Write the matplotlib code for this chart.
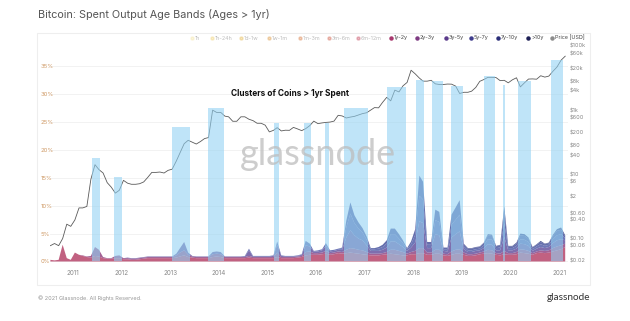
import numpy as np
import pandas as pd
import matplotlib
matplotlib.use('Agg')
import matplotlib.pyplot as plt
from matplotlib.patches import Rectangle
from matplotlib.lines import Line2D

plt.rcParams['font.family'] = ['Inter', 'DejaVu Sans']

# monthly samples, Jul 2010 .. Feb 2021 (mid month)
months = pd.date_range('2010-07-01', '2021-02-01', freq='MS') + pd.Timedelta(days=14)

# BTC price (USD)
price = [0.06, 0.07, 0.06, 0.10, 0.28, 0.24,
         0.38, 0.9, 0.9, 1.0, 7.0, 20, 14, 11, 5.5, 4.0, 2.6, 3.2,
         6.5, 5.3, 4.9, 4.9, 5.1, 5.8, 8.0, 11.5, 11.5, 11.8, 11.0, 13.3,
         14.5, 26, 47, 90, 115, 100, 88, 105, 130, 140, 1000, 850,
         850, 650, 620, 450, 450, 620, 620, 520, 470, 390, 390, 340,
         210, 235, 285, 225, 237, 235, 290, 260, 230, 265, 330, 455,
         380, 400, 415, 425, 455, 690, 660, 570, 608, 640, 710, 780,
         830, 1010, 1200, 1180, 1750, 2500, 1950, 4200, 3700, 5700, 7300, 17500,
         13500, 10000, 8000, 8000, 8500, 6600, 6300, 6300, 6500, 6450, 5600, 3300,
         3600, 3600, 3900, 5100, 7900, 9000, 10500, 10500, 10300, 8300, 8500, 7100,
         8800, 10200, 5300, 7100, 9300, 9400, 9200, 11800, 10700, 11500, 16300, 22000,
         36000, 48000]

# spent output share per age band (%)
band_1y_2y = [0.3, 0.2, 0.3, 3.0, 0.6, 0.3,
              1.6, 1.2, 1.0, 0.8, 0.7, 1.0, 0.9, 0.6, 0.5, 0.5, 0.6, 0.6,
              0.4, 0.4, 0.3, 0.3, 0.4, 0.5, 0.6, 0.6, 0.6, 0.6, 0.6, 0.6,
              0.6, 0.7, 0.9, 1.1, 0.8, 0.7, 0.6, 0.6, 0.6, 0.6, 0.8, 0.9,
              0.8, 0.6, 0.6, 0.6, 0.6, 0.6, 0.6, 0.7, 0.6, 0.6, 0.6, 0.6,
              0.6, 0.6, 0.8, 0.6, 0.6, 0.6, 0.6, 0.7, 0.8, 1.1, 1.2, 1.2,
              1.2, 1.3, 1.4, 1.2, 1.3, 1.5, 1.4, 1.5, 1.6, 1.5, 1.4, 1.3,
              1.2, 1.1, 1.1, 1.1, 1.2, 1.3, 1.4, 1.3, 1.2, 1.1, 1.1, 1.3,
              1.3, 1.5, 1.5, 1.2, 1.2, 1.4, 1.4, 1.1, 1.0, 1.2, 1.4, 1.4,
              1.2, 1.0, 1.0, 1.1, 1.3, 1.4, 1.5, 1.4, 1.2, 1.1, 1.3, 1.2,
              1.2, 1.3, 1.6, 1.5, 1.4, 1.2, 1.5, 1.6, 1.5, 1.6, 1.8, 2.0,
              2.2, 2.6]
band_2y_3y = [0] * 6 + [
              0.0, 0.0, 0.1, 0.1, 0.3, 1.6, 1.2, 0.2, 0.1, 0.1, 0.4, 0.5,
              0.2, 0.2, 0.2, 0.2, 0.2, 0.2, 0.2, 0.2, 0.2, 0.2, 0.2, 0.2,
              0.2, 0.4, 0.7, 0.9, 0.4, 0.2, 0.2, 0.2, 0.2, 0.2, 0.5, 0.5,
              0.5, 0.2, 0.2, 0.2, 0.2, 0.2, 0.2, 0.3, 0.2, 0.2, 0.2, 0.2,
              0.2, 0.2, 0.8, 0.2, 0.2, 0.2, 0.2, 0.2, 0.2, 0.6, 0.6, 0.3,
              0.3, 0.3, 0.5, 0.3, 0.3, 0.3, 0.3, 0.6, 0.8, 0.8, 0.7, 0.7,
              0.5, 0.3, 0.3, 0.3, 0.3, 0.4, 0.7, 0.8, 0.7, 0.6, 0.3, 0.4,
              0.6, 0.9, 0.9, 0.4, 0.4, 0.7, 0.7, 0.3, 0.3, 0.6, 0.7, 0.8,
              0.4, 0.3, 0.3, 0.3, 0.3, 0.4, 0.6, 0.6, 0.3, 0.3, 0.6, 0.3,
              0.3, 0.4, 0.6, 0.6, 0.5, 0.3, 0.3, 0.4, 0.4, 0.4, 0.6, 0.7,
              0.7, 0.6]
band_3y_5y = [0] * 18 + [
              0.0, 0.1, 0.1, 0.1, 0.1, 0.1, 0.1, 0.1, 0.1, 0.1, 0.1, 0.1,
              0.1, 0.3, 0.8, 1.5, 0.4, 0.1, 0.1, 0.1, 0.1, 0.1, 0.4, 0.4,
              0.4, 0.1, 0.1, 0.1, 0.1, 0.1, 0.1, 1.0, 0.1, 0.1, 0.1, 0.1,
              0.1, 0.2, 1.4, 0.2, 0.1, 0.1, 0.1, 0.1, 0.2, 1.2, 0.9, 0.3,
              0.3, 0.4, 0.9, 0.3, 0.3, 0.3, 0.4, 2.2, 3.2, 2.4, 2.0, 1.8,
              1.2, 0.5, 0.5, 0.5, 0.6, 0.8, 1.5, 1.5, 1.2, 0.9, 0.5, 0.8,
              1.5, 4.8, 4.5, 0.8, 0.8, 2.8, 2.6, 0.5, 0.5, 2.5, 2.8, 3.2,
              0.6, 0.4, 0.4, 0.5, 0.4, 0.6, 1.0, 1.0, 0.5, 0.6, 2.5, 0.5,
              0.5, 0.6, 1.0, 1.0, 0.9, 0.4, 0.5, 0.6, 0.5, 0.6, 0.9, 1.1,
              1.1, 0.6]
band_5y_7y = [0] * 42 + [
              0.0, 0.0, 0.0, 0.0, 0.0, 0.0, 0.1, 0.3, 0.1, 0.1, 0.1, 0.1,
              0.1, 0.1, 0.6, 0.1, 0.1, 0.1, 0.1, 0.1, 0.1, 0.8, 0.5, 0.1,
              0.2, 0.2, 0.5, 0.2, 0.2, 0.2, 0.3, 1.8, 3.0, 2.2, 1.8, 1.4,
              1.0, 0.3, 0.3, 0.4, 0.5, 0.7, 1.3, 1.3, 1.0, 0.7, 0.3, 0.6,
              1.4, 4.6, 4.2, 0.6, 0.6, 2.5, 2.4, 0.3, 0.4, 2.3, 2.6, 3.0,
              0.5, 0.3, 0.3, 0.3, 0.3, 0.5, 0.9, 0.9, 0.4, 0.5, 2.5, 0.4,
              0.4, 0.5, 0.8, 0.8, 0.7, 0.3, 0.4, 0.5, 0.4, 0.4, 0.7, 0.9,
              0.9, 0.4]
band_7y_10y = [0] * 66 + [
              0.0, 0.0, 0.0, 0.0, 0.0, 0.0, 0.1, 1.2, 2.0, 1.4, 1.1, 0.8,
              0.6, 0.2, 0.2, 0.3, 0.4, 0.6, 1.0, 1.0, 0.8, 0.5, 0.2, 0.5,
              1.0, 3.6, 3.2, 0.5, 0.5, 1.9, 1.8, 0.3, 0.3, 1.8, 2.2, 2.6,
              0.4, 0.3, 0.3, 0.3, 0.3, 0.4, 0.7, 0.7, 0.3, 0.4, 2.0, 0.3,
              0.3, 0.4, 0.7, 0.7, 0.6, 0.3, 0.3, 0.4, 0.3, 0.3, 0.6, 0.8,
              0.8, 0.3]
band_10y = [0] * 102 + [
              0.1, 0.1, 0.1, 0.1, 0.1, 0.1, 0.2, 0.2, 0.1, 0.1, 1.0, 0.1,
              0.1, 0.2, 0.3, 0.3, 0.2, 0.1, 0.1, 0.2, 0.1, 0.1, 0.2, 0.3,
              0.4, 0.2]

bands = [band_1y_2y, band_2y_3y, band_3y_5y, band_5y_7y, band_7y_10y, band_10y]
band_colors = ['#b23a62', '#8c3c7c', '#5e4a9a', '#4a55a5', '#3d4a98', '#2a3580']

# highlighted clusters: start, end, top (%)
spans = [('2011-05-22', '2011-07-22', 18.5), ('2011-11-03', '2012-01-04', 15.1),
         ('2013-01-15', '2013-05-30', 24.2), ('2013-10-12', '2014-02-10', 27.6),
         ('2015-02-20', '2015-03-28', 24.9), ('2015-10-01', '2015-11-24', 24.9),
         ('2016-03-10', '2016-04-08', 24.9), ('2016-07-30', '2017-01-27', 27.6),
         ('2017-06-18', '2017-11-07', 31.2), ('2018-01-23', '2018-03-22', 32.6),
         ('2018-05-22', '2018-08-12', 32.3), ('2018-10-12', '2019-01-08', 31.5),
         ('2019-06-16', '2019-09-06', 33.3), ('2019-11-05', '2019-11-21', 31.6),
         ('2020-03-01', '2020-06-03', 32.4), ('2020-11-03', '2021-01-30', 36.2)]

legend_labels = ['1h', '1h-24h', '1d-1w', '1w-1m', '1m-3m', '3m-6m', '6m-12m',
                 '1y-2y', '2y-3y', '3y-5y', '5y-7y', '7y-10y', '>10y', 'Price [USD]']
legend_colors = ['#f3e3a0', '#efd070', '#e6b84a', '#dd9840', '#d8783e', '#cf5a45', '#c4425a',
                 '#a8386e', '#7e3a82', '#5a3a8a', '#3e3c8c', '#2b2e78', '#1d1f55', '#8c8c8c']
legend_x = [192, 212, 241, 269, 300, 329, 358, 391, 417, 446, 471, 498, 528, 552]

pct_ticks = [0, 5, 10, 15, 20, 25, 30, 35]
price_ticks = [0.02, 0.06, 0.10, 0.40, 0.60, 2, 6, 10, 40, 80, 200, 600, 1000, 4000, 8000, 20000, 60000, 100000]
price_labels = ['$0.02', '$0.06', '$0.10', '$0.40', '$0.60', '$2', '$6', '$10', '$40', '$80',
                '$200', '$600', '$1k', '$4k', '$8k', '$20k', '$60k', '$100k']

W, H = 630, 321
fig = plt.figure(figsize=(W / 100, H / 100), dpi=100)
fig.patch.set_facecolor('white')

def fx(px):
    return px / W

def fy(py):
    return 1 - py / H

# light frame around the chart
fig.add_artist(Rectangle((fx(37), fy(285)), fx(590) - fx(37), fy(33) - fy(285),
                         transform=fig.transFigure, fill=False, ec='#eeeeee', lw=0.8))

ax = fig.add_axes([fx(50), fy(263), fx(568) - fx(50), fy(44) - fy(263)])
ax2 = ax.twinx()

ax.stackplot(months, *bands, colors=band_colors, alpha=0.8, lw=0)
ax.set_ylim(-0.27, 39.0)
ax.set_yticks(pct_ticks)
ax.set_yticklabels(['%d%%' % t for t in pct_ticks])
ax.grid(axis='y', color='#f0f0f0', lw=0.6)
ax.set_axisbelow(True)
ax.tick_params(axis='y', length=0, pad=7, labelsize=4.3, labelcolor='#cf9a66')
for lab in ax.get_yticklabels():
    lab.set_horizontalalignment('left')

years = pd.date_range('2011-01-01', '2021-01-01', freq='YS')
ax.set_xticks(years)
ax.set_xticklabels([str(d.year) for d in years])
ax.tick_params(axis='x', length=0, pad=5, labelsize=4.5, labelcolor='#888888')
ax.set_xlim(pd.Timestamp('2010-07-12'), pd.Timestamp('2021-03-08'))

ax2.plot(months, price, color='#5a5a5a', lw=0.6)
ax2.set_yscale('log')
ax2.set_ylim(0.0173, 115000)
ax2.set_yticks(price_ticks)
ax2.set_yticklabels(price_labels)
ax2.minorticks_off()
ax2.tick_params(axis='y', length=0, pad=1.5, labelsize=4.0, labelcolor='#888888')

for a in (ax, ax2):
    for s in a.spines.values():
        s.set_visible(False)

# cluster rectangles on top of both series
for start, end, top in spans:
    x0 = pd.Timestamp(start)
    x1 = pd.Timestamp(end)
    r = Rectangle((x0, 0), x1 - x0, top, transform=ax.transData,
                  fc='#92d2f3', alpha=0.58, lw=0, zorder=5)
    ax2.add_patch(r)

fig.text(fx(290), fy(94), 'Clusters of Coins > 1yr Spent', ha='center', va='center',
         fontsize=6, fontweight='bold', color='#111111', zorder=10)

fig.text(fx(318), fy(155), 'glassnode', ha='center', va='center', fontsize=26,
         family=['Lato', 'DejaVu Sans'], color='#bdbdbd', alpha=0.75, zorder=10)

# legend row
for i, (lab, col, x) in enumerate(zip(legend_labels, legend_colors, legend_x)):
    faded = i < 7
    fig.add_artist(Line2D([fx(x)], [fy(38)], marker='o', ms=2.2, color=col,
                          alpha=0.35 if faded else 1.0,
                          transform=fig.transFigure, lw=0))
    fig.text(fx(x + 3), fy(38), lab, ha='left', va='center', fontsize=3.9,
             color='#444444', alpha=0.35 if faded else 1.0)

fig.text(fx(38), fy(14), 'Bitcoin: Spent Output Age Bands (Ages > 1yr)', ha='left', va='center',
         fontsize=7.8, color='#555555')
fig.text(fx(38), fy(298), '\u00a9 2021 Glassnode. All Rights Reserved.', ha='left', va='center',
         fontsize=4.0, color='#999999')
fig.text(fx(590), fy(297), 'glassnode', ha='right', va='center', fontsize=7.2,
         family=['Lato', 'DejaVu Sans'], color='#333333')

fig.savefig('out.png', dpi=100, facecolor='white')
